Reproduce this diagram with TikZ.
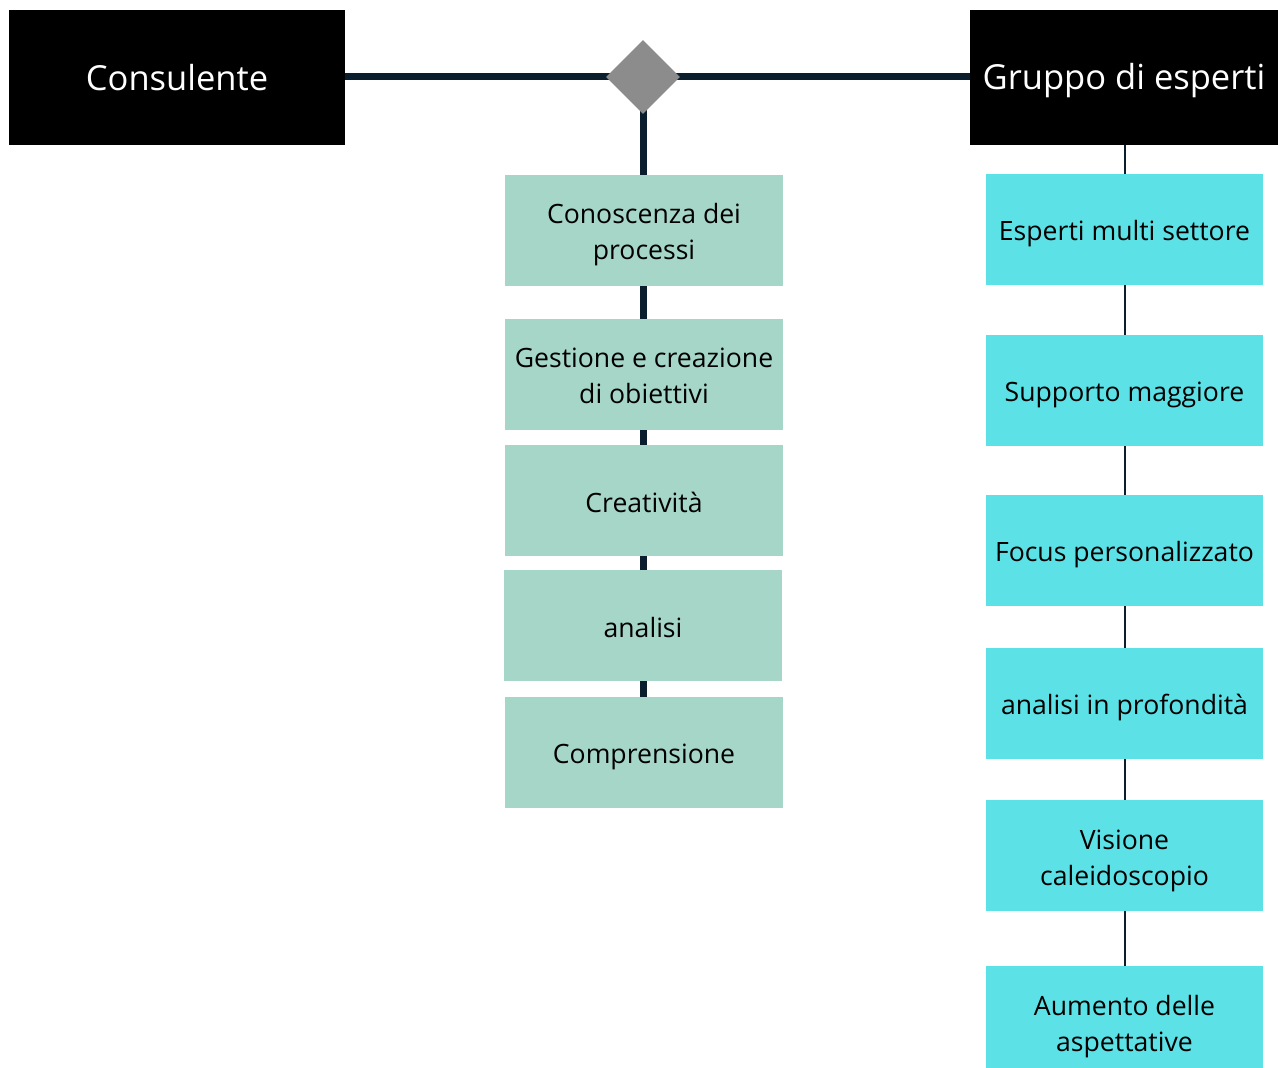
\documentclass[tikz,border=0pt]{standalone}
\usepackage{fontspec}
\setmainfont{Open Sans}
\usetikzlibrary{shapes.geometric,backgrounds}
\definecolor{navy}{HTML}{0B1E2D}
\definecolor{mint}{HTML}{A5D6C8}
\definecolor{cyanbox}{HTML}{5CE1E6}
\definecolor{diagray}{HTML}{8C8C8C}
\begin{document}
\begin{tikzpicture}[x=1pt,y=-1pt,
  header/.style={fill=black,inner sep=0pt},
  headtext/.style={text=white,inner sep=0pt,font=\fontsize{34.5}{40}\selectfont},
  leftbox/.style={fill=mint,inner sep=0pt,minimum width=278pt,minimum height=111pt},
  rightbox/.style={fill=cyanbox,inner sep=0pt,minimum width=277pt,minimum height=111pt},
  boxtext/.style={inner sep=0pt,align=center,font=\fontsize{26.6}{36}\selectfont},
  thick line/.style={draw=navy,line width=7pt},
  thin line/.style={draw=navy,line width=2pt}]
\useasboundingbox (0,0) rectangle (1278,1068);
% header boxes
\node[header,minimum width=336pt,minimum height=135pt] (cons) at (177,77.5) {};
\node[headtext] (const) at (cons.center) {Consulente};
\node[header,minimum width=308pt,minimum height=135pt] (grup) at (1124,77.5) {};
\node[headtext] (grupt) at ([yshift=-3pt]grup.center) {Gruppo di esperti};
% diamond
\node[diamond,fill=diagray,minimum width=74pt,minimum height=74pt,inner sep=0pt] (dia) at (643,77) {};
% left boxes
\node[leftbox] (l1) at (644,230.5) {};
\node[leftbox] (l2) at (644,374.5) {};
\node[leftbox] (l3) at (644,500.5) {};
\node[leftbox] (l4) at (643,625.5) {};
\node[leftbox] (l5) at (644,752.5) {};
\node[boxtext] (l1t) at ([yshift=-4pt]l1.center) {Conoscenza dei\\processi};
\node[boxtext] (l2t) at ([yshift=-1pt]l2.center) {Gestione e creazione\\di obiettivi};
\node[boxtext] (l3t) at ([yshift=-2pt]l3.center) {Creatività};
\node[boxtext] (l4t) at ([yshift=-2pt]l4.center) {analisi};
\node[boxtext] (l5t) at ([yshift=-4pt]l5.center) {Comprensione};
% right boxes
\node[rightbox] (r1) at (1124.5,229.5) {};
\node[rightbox] (r2) at (1124.5,390.5) {};
\node[rightbox] (r3) at (1124.5,550.5) {};
\node[rightbox] (r4) at (1124.5,703.5) {};
\node[rightbox] (r5) at (1124.5,855.5) {};
\node[rightbox] (r6) at (1124.5,1021.5) {};
\node[boxtext] (r1t) at ([yshift=-4pt]r1.center) {Esperti multi settore};
\node[boxtext] (r2t) at ([yshift=-4pt]r2.center) {Supporto maggiore};
\node[boxtext] (r3t) at ([yshift=-4pt]r3.center) {Focus personalizzato};
\node[boxtext] (r4t) at ([yshift=-4pt]r4.center) {analisi in profondità};
\node[boxtext] (r5t) at ([yshift=-5pt]r5.center) {Visione\\caleidoscopio};
\node[boxtext] (r6t) at ([yshift=-5pt]r6.center) {Aumento delle\\aspettative};
% connectors behind
\begin{pgfonlayer}{background}
\draw[thick line] (cons.east |- 0,76) -- (grup.west |- 0,76);
\draw[thick line] (dia.center) -- (dia.center |- l5.north);
\draw[thin line] (grup.south -| 1125,0) -- (r6.north -| 1125,0);
\end{pgfonlayer}
\end{tikzpicture}
\end{document}
